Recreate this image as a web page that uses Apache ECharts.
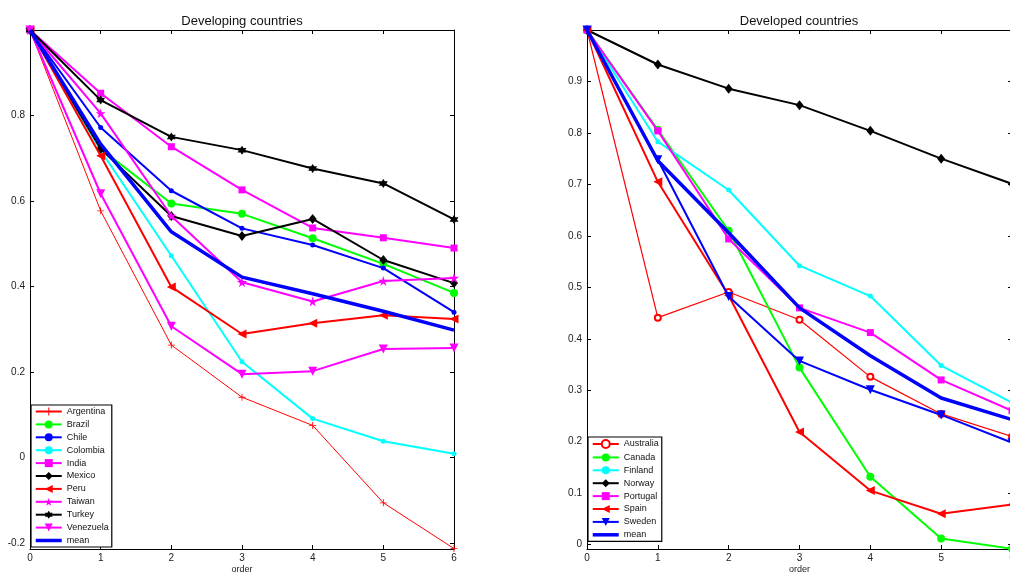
<!DOCTYPE html>
<html>
<head>
<meta charset="utf-8">
<script src="https://cdn.jsdelivr.net/npm/echarts@6/dist/echarts.min.js"></script>
<style>html,body{margin:0;padding:0;background:#fff}#c{width:1010px;height:574px}</style>
</head>
<body>
<div id="c"></div>
<script>
// ---- data ----
var orders = [0, 1, 2, 3, 4, 5, 6];
var xTicks = [0, 1, 2, 3, 4, 5, 6];
var leftYTicks = [-0.2, 0, 0.2, 0.4, 0.6, 0.8];
var rightYTicks = [0, 0.1, 0.2, 0.3, 0.4, 0.5, 0.6, 0.7, 0.8, 0.9];

var developingNames = ['Argentina','Brazil','Chile','Colombia','India','Mexico','Peru','Taiwan','Turkey','Venezuela','mean'];
var argentina = [1, 0.577, 0.263, 0.141, 0.075, -0.106, -0.213];
var brazil    = [1, 0.722, 0.594, 0.570, 0.513, 0.453, 0.385];
var chile     = [1, 0.772, 0.624, 0.536, 0.497, 0.443, 0.340];
var colombia  = [1, 0.718, 0.472, 0.224, 0.091, 0.038, 0.009];
var india     = [1, 0.852, 0.727, 0.626, 0.537, 0.514, 0.490];
var mexico    = [1, 0.722, 0.565, 0.518, 0.558, 0.462, 0.408];
var peru      = [1, 0.706, 0.399, 0.289, 0.314, 0.333, 0.324];
var taiwan    = [1, 0.805, 0.565, 0.410, 0.365, 0.413, 0.420];
var turkey    = [1, 0.836, 0.750, 0.719, 0.676, 0.641, 0.557];
var venezuela = [1, 0.617, 0.307, 0.195, 0.202, 0.254, 0.256];
var devMean   = [1, 0.733, 0.528, 0.422, 0.383, 0.342, 0.298];

var developedNames = ['Australia','Canada','Finland','Norway','Portugal','Spain','Sweden','mean'];
var australia = [1, 0.441, 0.491, 0.437, 0.326, 0.254, 0.210];
var canada    = [1, 0.806, 0.610, 0.344, 0.132, 0.012, -0.008];
var finland   = [1, 0.783, 0.689, 0.542, 0.483, 0.348, 0.276];
var norway    = [1, 0.933, 0.886, 0.854, 0.804, 0.750, 0.701];
var portugal  = [1, 0.804, 0.594, 0.460, 0.412, 0.320, 0.260];
var spain     = [1, 0.705, 0.484, 0.219, 0.105, 0.060, 0.078];
var sweden    = [1, 0.748, 0.482, 0.357, 0.301, 0.252, 0.198];
var dedMean   = [1, 0.746, 0.606, 0.460, 0.367, 0.285, 0.243];

// ---- symbols ----
var SYM = {
  plus: 'path://M4.4,0H5.6V4.4H10V5.6H5.6V10H4.4V5.6H0V4.4H4.4Z',
  star: 'path://M5,0L6.12,3.46L9.76,3.45L6.81,5.59L7.94,9.05L5,6.9L2.06,9.05L3.19,5.59L0.24,3.45L3.88,3.46Z',
  hex: 'path://M5,0L6.44,2.5L9.33,2.5L7.89,5L9.33,7.5L6.44,7.5L5,10L3.56,7.5L0.67,7.5L2.11,5L0.67,2.5L3.56,2.5Z',
  left: 'path://M0,5L10,0L10,10Z',
  down: 'path://M0,0L10,0L5,10Z'
};

var FONT = 'Liberation Sans';

function mk(name, vals, color, width, symbol, size, idx, z) {
  return {
    type: 'line', name: name,
    xAxisIndex: idx, yAxisIndex: idx,
    data: orders.map(function (o, i) { return [o, vals[i]]; }),
    lineStyle: { color: color, width: width },
    itemStyle: { color: color, borderColor: color, borderWidth: symbol === 'emptyCircle' ? 1.2 : 0 },
    color: color,
    symbol: symbol, symbolSize: size, showSymbol: symbol !== 'none',
    z: z, silent: true
  };
}

var series = [
  mk('Argentina', argentina, '#ff0000', 1, SYM.plus, 7, 0, 2),
  mk('Brazil', brazil, '#00ff00', 2, 'circle', 8, 0, 3),
  mk('Chile', chile, '#0000ff', 2, 'circle', 5, 0, 4),
  mk('Colombia', colombia, '#00ffff', 2, 'circle', 5, 0, 5),
  mk('India', india, '#ff00ff', 2, 'rect', 7, 0, 6),
  mk('Mexico', mexico, '#000000', 2, 'diamond', [8, 10], 0, 7),
  mk('Peru', peru, '#ff0000', 2, SYM.left, 9, 0, 8),
  mk('Taiwan', taiwan, '#ff00ff', 2, SYM.star, 10, 0, 9),
  mk('Turkey', turkey, '#000000', 2, SYM.hex, 9, 0, 10),
  mk('Venezuela', venezuela, '#ff00ff', 2, SYM.down, 9, 0, 11),
  mk('mean', devMean, '#0000ff', 3.5, 'none', 0, 0, 12),

  mk('Australia', australia, '#ff0000', 1.2, 'emptyCircle', 6, 2, 2),
  mk('Canada', canada, '#00ff00', 2, 'circle', 8, 2, 3),
  mk('Finland', finland, '#00ffff', 2, 'circle', 5, 2, 4),
  mk('Norway', norway, '#000000', 2, 'diamond', [8, 10], 2, 5),
  mk('Portugal', portugal, '#ff00ff', 2, 'rect', 7, 2, 6),
  mk('Spain', spain, '#ff0000', 2, SYM.left, 9, 2, 7),
  mk('Sweden', sweden, '#0000ff', 2, SYM.down, 9, 2, 8),
  mk('mean', dedMean, '#0000ff', 3.5, 'none', 0, 2, 9)
];

function fmt(v) { return String(Math.round(v * 10) / 10); }

function xAx(grid, bottom) {
  return {
    type: 'value', gridIndex: grid, min: 0, max: 6,
    position: bottom ? 'bottom' : 'top',
    splitLine: { show: false },
    axisLine: { show: true, onZero: false, lineStyle: { color: '#000', width: 1 } },
    axisTick: { show: true, inside: true, length: 4, customValues: xTicks, lineStyle: { color: '#000' } },
    axisLabel: bottom ? { show: true, customValues: xTicks, margin: 4, fontSize: 10, color: '#222', fontFamily: FONT } : { show: false },
    name: bottom ? 'order' : '', nameLocation: 'middle', nameGap: 16, nameMoveOverlap: false,
    nameTextStyle: { fontSize: 9, color: '#222', fontFamily: FONT }
  };
}
function yAx(grid, left, mn, mx, ticks) {
  return {
    type: 'value', gridIndex: grid, min: mn, max: mx,
    position: left ? 'left' : 'right',
    splitLine: { show: false },
    axisLine: { show: true, onZero: false, lineStyle: { color: '#000', width: 1 } },
    axisTick: { show: true, inside: true, length: 4, customValues: ticks, lineStyle: { color: '#000' } },
    axisLabel: left ? { show: true, customValues: ticks, margin: 5, fontSize: 10, color: '#222', fontFamily: FONT, formatter: fmt } : { show: false }
  };
}

function legend(names, left, top) {
  return {
    data: names.map(function (n) {
      return n === 'mean' ? { name: n, itemStyle: { opacity: 0 }, lineStyle: { width: 3.5 } } : { name: n };
    }),
    orient: 'vertical', left: left, top: top,
    backgroundColor: '#fff', borderColor: '#000', borderWidth: 1.2,
    padding: [2, 3, 2, 3], itemWidth: 26, itemHeight: 10, itemGap: 3.9,
    textStyle: { fontSize: 9, color: '#111', fontFamily: FONT },
    selectedMode: false, z: 20
  };
}

var chart = echarts.init(document.getElementById('c'), null, { renderer: 'canvas' });
chart.setOption({
  animation: false,
  backgroundColor: '#fff',
  title: [
    { text: 'Developing countries', left: 237, top: 10, textAlign: 'center', textStyle: { fontSize: 13, fontWeight: 'normal', color: '#111', fontFamily: FONT } },
    { text: 'Developed countries', left: 794, top: 10, textAlign: 'center', textStyle: { fontSize: 13, fontWeight: 'normal', color: '#111', fontFamily: FONT } }
  ],
  grid: [
    { left: 30, top: 30, width: 424, height: 519, containLabel: false, outerBoundsMode: 'none' },
    { left: 587, top: 30, width: 425, height: 519, containLabel: false, outerBoundsMode: 'none' }
  ],
  xAxis: [xAx(0, true), xAx(0, false), xAx(1, true), xAx(1, false)],
  yAxis: [
    yAx(0, true, -0.214, 1, leftYTicks), yAx(0, false, -0.214, 1, leftYTicks),
    yAx(1, true, -0.0085, 1, rightYTicks), yAx(1, false, -0.0085, 1, rightYTicks)
  ],
  legend: [legend(developingNames, 31, 405), legend(developedNames, 588, 437)],
  series: series
});
</script>
</body>
</html>
